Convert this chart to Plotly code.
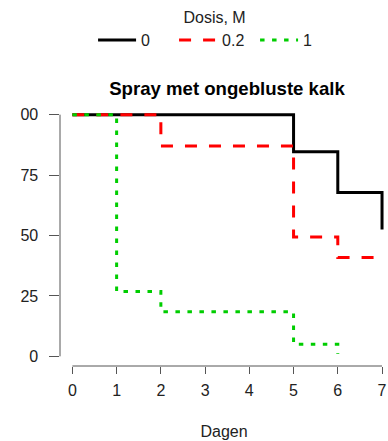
import plotly.graph_objects as go

# Survival (%) per day for each dose of quicklime spray
days_0 = [0, 5, 6, 7]
surv_0 = [100, 84.7, 67.8, 52.5]

days_02 = [0, 2, 5, 6, 7]
surv_02 = [100, 87.0, 49.4, 40.9, 40.9]

days_1 = [0, 1, 2, 5, 6]
surv_1 = [100, 26.8, 18.5, 5.0, 1.0]

x_ticks = [0, 1, 2, 3, 4, 5, 6, 7]
y_ticks = [0, 25, 50, 75, 100]
y_tick_text = ["0", "25", "50", "75", "00"]

series = [
    ("0", days_0, surv_0, "#000000", "solid"),
    ("0.2", days_02, surv_02, "#FF0000", "12px,12px"),
    ("1", days_1, surv_1, "#00CD00", "4.5px,7.5px"),
]

fig = go.Figure()
for name, xs, ys, color, dash in series:
    fig.add_trace(go.Scatter(
        x=xs, y=ys, name=name, mode="lines",
        line=dict(shape="hv", color=color, width=3, dash=dash),
        hoverinfo="skip",
    ))

axis_col = "#555555"
font_fam = "Liberation Sans, Arial, sans-serif"
txt = dict(family=font_fam, size=16, color="#222222")

# R-style detached axis lines
fig.add_shape(type="line", xref="x", yref="paper", x0=0, x1=7, y0=0, y1=0,
              line=dict(color=axis_col, width=1))
fig.add_shape(type="line", xref="paper", yref="y", x0=0, x1=0, y0=0, y1=100,
              line=dict(color=axis_col, width=1))

fig.update_layout(
    width=388, height=441,
    margin=dict(l=59.6, r=0, t=105.4, b=75.4),
    paper_bgcolor="white", plot_bgcolor="white",
    font=txt,
    title=dict(text="<b>Spray met ongebluste kalk</b>", xref="container", yref="container",
               x=0.585, xanchor="center", y=1 - 88 / 441, yanchor="middle",
               font=dict(family=font_fam, size=18.6, color="#000000")),
    showlegend=True,
    legend=dict(orientation="h", xref="container", yref="container",
                x=0.553, xanchor="center", y=0.995, yanchor="top",
                title=dict(text="Dosis, M", side="top center", font=txt),
                font=txt, bgcolor="rgba(0,0,0,0)", itemwidth=38,
                entrywidth=28, entrywidthmode="pixels"),
    xaxis=dict(range=[-0.28, 7.135], tickvals=x_ticks, showgrid=False, zeroline=False,
               showline=False, ticks="outside", ticklen=7, tickcolor=axis_col, tickwidth=1,
               ticklabelstandoff=3, fixedrange=True, tickfont=txt,
               title=dict(text="Dagen", standoff=27, font=txt)),
    yaxis=dict(range=[-4, 104], tickvals=y_ticks, ticktext=y_tick_text, showgrid=False,
               zeroline=False, showline=False, ticks="outside", ticklen=9.6,
               tickcolor=axis_col, tickwidth=1, ticklabelstandoff=8, fixedrange=True,
               tickfont=txt),
)

fig.write_html("out.html")
